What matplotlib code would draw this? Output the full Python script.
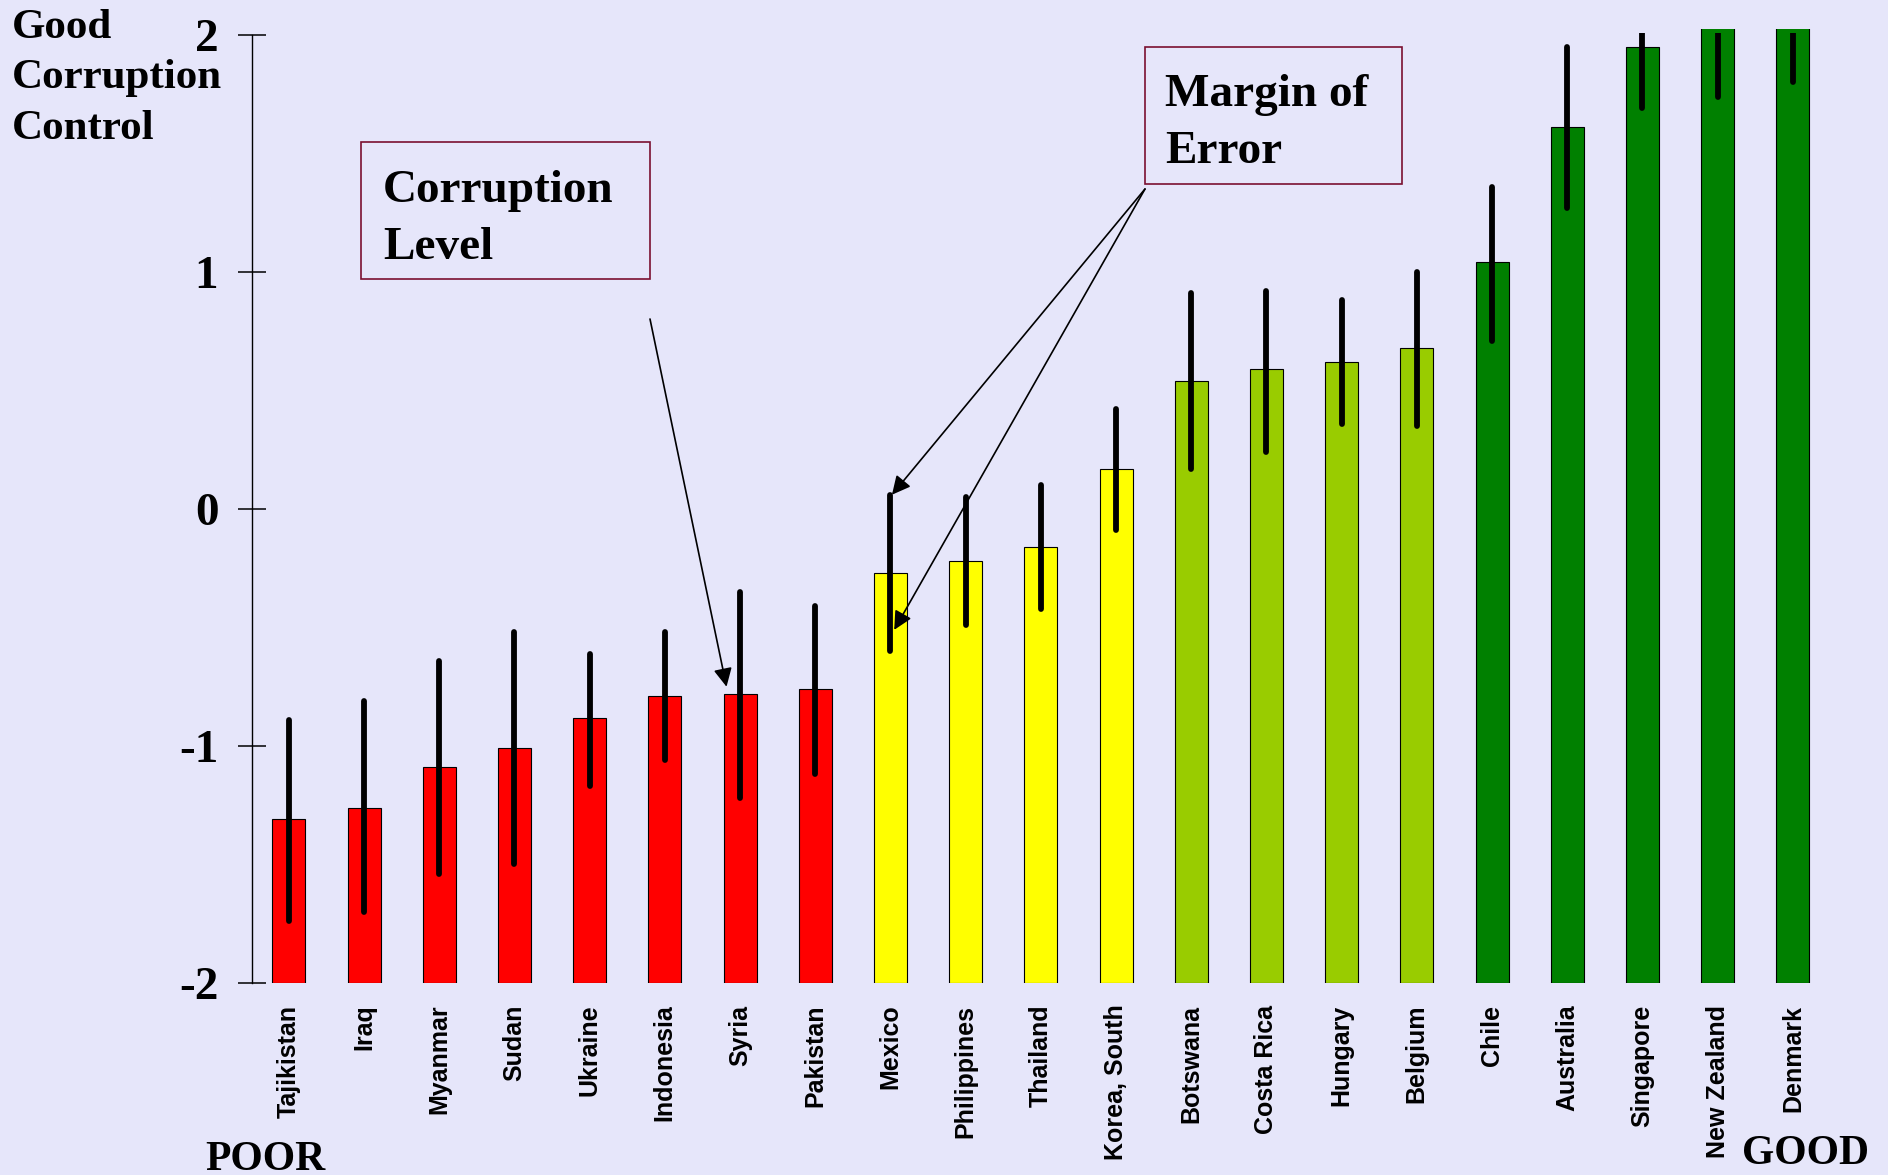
import numpy as np
import matplotlib.pyplot as plt
from matplotlib.patches import Rectangle

# ---- data ----
countries = ["Tajikistan", "Iraq", "Myanmar", "Sudan", "Ukraine", "Indonesia",
             "Syria", "Pakistan", "Mexico", "Philippines", "Thailand",
             "Korea, South", "Botswana", "Costa Rica", "Hungary", "Belgium",
             "Chile", "Australia", "Singapore", "New Zealand", "Denmark"]
scores = [-1.31, -1.26, -1.09, -1.01, -0.88, -0.79, -0.78, -0.76,
          -0.27, -0.22, -0.16, 0.17,
          0.54, 0.59, 0.62, 0.68,
          1.04, 1.61, 1.95, 2.30, 2.40]
err_low = [-1.74, -1.70, -1.54, -1.50, -1.17, -1.06, -1.22, -1.12,
           -0.60, -0.49, -0.42, -0.09,
           0.17, 0.24, 0.36, 0.35,
           0.71, 1.27, 1.69, 1.74, 1.80]
err_high = [-0.89, -0.81, -0.64, -0.52, -0.61, -0.52, -0.35, -0.41,
            0.06, 0.05, 0.10, 0.42,
            0.91, 0.92, 0.88, 1.00,
            1.36, 1.95, 2.20, 2.60, 2.60]
groups = ["poor"] * 8 + ["weak"] * 4 + ["fair"] * 4 + ["good"] * 5
yticks = [-2, -1, 0, 1, 2]
ytick_labels = ["-2", "-1", "0", "1", "2"]

palette = {"poor": "#ff0000", "weak": "#ffff00", "fair": "#99cc00", "good": "#008000"}
bg = "#e6e6fa"
serif = "Liberation Serif"
sans = "Liberation Sans"

W, H = 1888, 1175
fig = plt.figure(figsize=(W / 100, H / 100), dpi=100, facecolor=bg)
ax = fig.add_axes([252 / W, 1 - 983 / H, (1838 - 252) / W, (983 - 29) / H])
ax.set_facecolor(bg)

x = np.arange(len(countries))
base = -2
ax.bar(x, np.array(scores) - base, bottom=base, width=0.44,
       color=[palette[g] for g in groups], edgecolor="black", linewidth=0.8, zorder=2)

# margin of error lines, clipped just above the top tick
lc = ax.vlines(x, err_low, err_high, colors="black", linewidth=4.2,
               capstyle="round", zorder=3)
clip = Rectangle((-5, -3), 40, 5.01, transform=ax.transData)
lc.set_clip_path(clip)

ax.set_xlim(-0.49, 20.6)
ax.set_ylim(-2, 2.025)
ax.set_xticks(x)
ax.set_xticklabels(countries, rotation=90, fontsize=18, fontweight="bold", family=sans)
ax.tick_params(axis="x", length=0, pad=15.5)
ax.set_yticks(yticks)
ax.set_yticklabels(ytick_labels, fontsize=34, fontweight="bold", family=serif)
ax.tick_params(axis="y", direction="inout", length=20.5, width=1.1, pad=14)

for s in ["top", "right", "bottom"]:
    ax.spines[s].set_visible(False)
ax.spines["left"].set_bounds(-2, 2)
ax.spines["left"].set_linewidth(1.0)

# ---- texts ----
fig.text(12 / W, 1 - 9 / H, "Good\nCorruption\nControl", fontsize=31, fontweight="bold",
         family=serif, va="top", ha="left", linespacing=1.43)
fig.text(205 / W, 1 - 1170 / H, "POOR", fontsize=30, fontweight="bold", family=serif,
         va="baseline", ha="left")
fig.text(1742 / W, 1 - 1164 / H, "GOOD", fontsize=30, fontweight="bold", family=serif,
         va="baseline", ha="left")

box_col = "#7a1030"
fig.add_artist(Rectangle((361 / W, 1 - 279 / H), (650 - 361) / W, (279 - 142) / H,
                         transform=fig.transFigure, fill=False, edgecolor=box_col, linewidth=1.2))
fig.text(383 / W, 1 - 170 / H, "Corruption\nLevel", fontsize=34, fontweight="bold",
         family=serif, va="top", ha="left", linespacing=1.46)

fig.add_artist(Rectangle((1145 / W, 1 - 184 / H), (1402 - 1145) / W, (184 - 47) / H,
                         transform=fig.transFigure, fill=False, edgecolor=box_col, linewidth=1.2))
fig.text(1165 / W, 1 - 74 / H, "Margin of\nError", fontsize=34, fontweight="bold",
         family=serif, va="top", ha="left", linespacing=1.46)

# ---- arrows ----
arrow = dict(arrowstyle="-|>", mutation_scale=28, lw=1.2, color="black",
             shrinkA=0, shrinkB=0)
ax.annotate("", xy=(5.82, -0.75), xycoords="data",
            xytext=(650 / W, 1 - 319 / H), textcoords="figure fraction", arrowprops=arrow)
ax.annotate("", xy=(8.02, 0.06), xycoords="data",
            xytext=(1145 / W, 1 - 189 / H), textcoords="figure fraction", arrowprops=arrow)
ax.annotate("", xy=(8.05, -0.51), xycoords="data",
            xytext=(1145 / W, 1 - 189 / H), textcoords="figure fraction", arrowprops=arrow)

fig.savefig("out.png", dpi=100, facecolor=bg)
